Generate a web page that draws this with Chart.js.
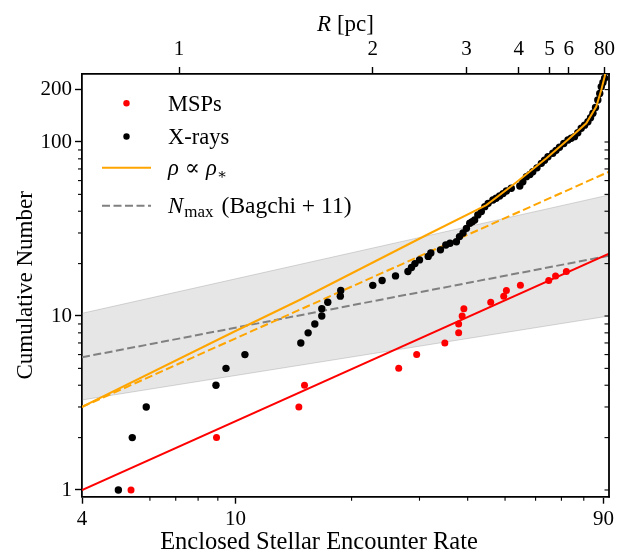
<!DOCTYPE html>
<html>
<head>
<meta charset="utf-8">
<script src="https://cdn.jsdelivr.net/npm/chart.js@4.4.1/dist/chart.umd.min.js"></script>
<style>
  html, body { margin: 0; padding: 0; background: #fff; }
</style>
</head>
<body>
<canvas id="c" width="626" height="553"></canvas>
<script>
const FONT = "'Liberation Serif', 'DejaVu Serif', serif"
const RED = "#ff0000"
const ORANGE = "#ffa500"
const GREY = "#808080"
const BAND = "rgba(128,128,128,0.2)"
const BAND_EDGE = "rgba(128,128,128,0.3)"
const INK = "#000"

// MSPs: enclosed encounter rate vs cumulative number
const mspRate = [5.36, 8.93, 14.6, 15.1, 26.5, 29.5, 34.9, 37.9, 37.9, 38.7, 39.1, 45.9, 49.6, 50.4, 54.8, 64.9, 67.6, 72.1]
const mspCount = [1, 2, 3, 4, 5, 6, 7, 8, 9, 10, 11, 12, 13, 14, 15, 16, 17, 18]

// X-ray sources
const xrayRate = [
  4.97, 5.40, 5.87, 8.90, 9.45, 10.58, 14.77, 15.43, 16.06, 16.74, 16.74, 17.35, 18.7, 18.75,
  22.7, 24.0, 26.0, 28.0, 28.6, 29.2, 30.0, 31.6, 32.1, 34.0,
  35.1, 36.0, 37.4, 38.1, 38.9, 39.7, 40.5, 41.1, 41.7, 42.5, 43.4, 44.3, 45.2, 46.5, 47.4, 48.4,
  49.4, 50.4, 51.9, 54.6, 55.6, 56.8, 58.0, 59.0, 60.5, 62.1, 63.3, 64.6, 66.5, 67.8, 69.2, 71.0,
  72.8, 74.2, 75.7, 77.2, 78.8, 80.4, 82.0, 83.3, 84.5, 85.8, 87.0, 88.0, 88.8, 89.7, 90.6
]
const xrayCount = [
  1, 2, 3, 4, 5, 6, 7, 8, 9, 10, 11, 12, 13, 14,
  15, 16, 17, 18, 19, 20, 21, 22, 23, 24,
  25.6, 26.2, 26.7, 28.6, 30.0, 31.9, 34.1, 34.8, 35.6, 38.1, 39.8, 42.5, 44.4, 46.4, 47.5, 48.9,
  50.5, 52.3, 54.2, 55.9, 59.1, 63.2, 65.0, 67.5, 71.0, 75.4, 78.5, 82.3, 86.1, 89.5, 93.2, 98.0,
  102.7, 105.0, 107.3, 113.0, 119.9, 125.0, 130.8, 138.0, 146.2, 158.0, 174.3, 190.0, 207.9, 220.0, 232.3
]

// rho ∝ rho_* model curve
const rhoRate = [4, 10, 14.7, 31.3, 44.7, 52.4, 64.0, 73.5, 81.2, 86.2, 88.8, 90.6, 91.2]
const rhoCount = [3.0, 8.2, 12.4, 29.2, 43.4, 56.6, 80.6, 105, 128, 160, 199, 237, 255]

// straight lines, given at the two x limits
const edgeRate = [4, 93]
const redLine = [1.0, 22.8]
const orangeDashed = [3.0, 67.5]
const nmaxLine = [5.79, 22.2]
const bandLow = [3.29, 10.0]
const bandHigh = [10.36, 49.6]

// axes
const xTicks = [4, 10, 90]
const xMinor = [6, 7, 8, 9, 20, 30, 40, 50, 60, 70, 80]
const yTicks = [1, 10, 100, 200]
const yMinor = [2, 3, 4, 5, 6, 7, 8, 9, 20, 30, 40, 50, 60, 70, 80, 90]
const topTickRate = [7.14, 22.7, 39.7, 54.3, 65.2, 73.1, 90.6]
const topTickLabel = ["1", "2", "3", "4", "5", "6", "80"]

const pts = (xs, ys) => xs.map((x, i) => ({ x, y: ys[i] }))
const DASH = [8, 3.5]

const tickFont = { family: FONT, size: 21 }
const axisGrid = { drawOnChartArea: false, tickLength: 7, tickWidth: 1.4, tickColor: INK }
const axisBorder = { color: INK, width: 1.8 }

// minor ticks, right spine, legend, top title and x label
const decor = {
  id: "decor",
  afterDraw(chart) {
    const { ctx, chartArea: a, scales } = chart
    const seg = (x1, y1, x2, y2) => { ctx.beginPath(); ctx.moveTo(x1, y1); ctx.lineTo(x2, y2); ctx.stroke() }
    ctx.save()
    ctx.strokeStyle = INK
    ctx.lineWidth = 1.1
    xMinor.forEach((v) => { const px = scales.x.getPixelForValue(v); seg(px, a.bottom, px, a.bottom + 4) })
    yMinor.forEach((v) => { const py = scales.y.getPixelForValue(v); seg(a.left - 4, py, a.left, py) })
    yTicks.concat(yMinor).forEach((v) => { const py = scales.y.getPixelForValue(v); seg(a.right - 4.5, py, a.right, py) })
    ctx.lineWidth = 1.8
    seg(a.right, a.top - 0.9, a.right, a.bottom + 0.9)

    // legend
    const lx = a.left + 20, tx = a.left + 86
    ctx.fillStyle = RED
    ctx.beginPath(); ctx.arc(a.left + 44.5, 103.3, 3.2, 0, Math.PI * 2); ctx.fill()
    ctx.fillStyle = INK
    ctx.beginPath(); ctx.arc(a.left + 44.5, 136.5, 3.2, 0, Math.PI * 2); ctx.fill()
    ctx.lineWidth = 2
    ctx.strokeStyle = ORANGE
    seg(lx, 167.7, lx + 49, 167.7)
    ctx.strokeStyle = GREY
    ctx.setLineDash(DASH)
    seg(lx, 205.7, lx + 49, 205.7)
    ctx.setLineDash([])

    ctx.fillStyle = INK
    ctx.textBaseline = "alphabetic"
    ctx.textAlign = "left"
    ctx.font = `22.5px ${FONT}`
    ctx.fillText("MSPs", tx, 111)
    ctx.fillText("X-rays", tx, 144)
    let cx = tx
    ctx.font = `italic 22.5px ${FONT}`
    ctx.fillText("ρ", cx, 175); cx += ctx.measureText("ρ").width + 6
    ctx.font = `22.5px ${FONT}`
    ctx.fillText("∝", cx, 175); cx += ctx.measureText("∝").width + 6
    ctx.font = `italic 22.5px ${FONT}`
    ctx.fillText("ρ", cx, 175); cx += ctx.measureText("ρ").width
    ctx.font = `15px ${FONT}`
    ctx.fillText("∗", cx, 179)
    cx = tx
    ctx.font = `italic 23px ${FONT}`
    ctx.fillText("N", cx, 213); cx += ctx.measureText("N").width + 1
    ctx.font = `17px ${FONT}`
    ctx.fillText("max", cx, 217); cx += ctx.measureText("max").width + 8
    ctx.font = `23.5px ${FONT}`
    ctx.fillText("(Bagchi + 11)", cx, 213)

    // top axis title
    ctx.font = `italic 23px ${FONT}`
    const wR = ctx.measureText("R").width
    ctx.font = `23px ${FONT}`
    const wRest = ctx.measureText(" [pc]").width
    const sx = (a.left + a.right) / 2 - (wR + wRest) / 2
    ctx.font = `italic 23px ${FONT}`
    ctx.fillText("R", sx, 31)
    ctx.font = `23px ${FONT}`
    ctx.fillText(" [pc]", sx + wR, 31)

    // bottom axis title, centred on the figure
    ctx.font = `24.5px ${FONT}`
    ctx.textAlign = "center"
    ctx.fillText("Enclosed Stellar Encounter Rate", chart.width / 2 + 6, 549)
    ctx.restore()
  },
}

new Chart(document.getElementById("c"), {
  type: "line",
  data: {
    datasets: [
      { data: pts(rhoRate, rhoCount), borderColor: ORANGE, borderWidth: 2, pointRadius: 0, tension: 0, order: 0 },
      { data: pts(mspRate, mspCount), showLine: false, pointRadius: 3.5, pointBackgroundColor: RED, pointBorderWidth: 0, order: 1 },
      { data: pts(xrayRate, xrayCount), showLine: false, pointRadius: 3.7, pointBackgroundColor: INK, pointBorderWidth: 0, order: 1 },
      { data: pts(edgeRate, redLine), borderColor: RED, borderWidth: 2, pointRadius: 0, order: 2 },
      { data: pts(edgeRate, orangeDashed), borderColor: ORANGE, borderWidth: 2, borderDash: DASH, pointRadius: 0, order: 3 },
      { data: pts(edgeRate, nmaxLine), borderColor: GREY, borderWidth: 2, borderDash: DASH, pointRadius: 0, order: 4 },
      { data: pts(edgeRate, bandHigh), borderColor: BAND_EDGE, borderWidth: 1, backgroundColor: BAND, fill: "+1", pointRadius: 0, order: 5 },
      { data: pts(edgeRate, bandLow), borderColor: BAND_EDGE, borderWidth: 1, pointRadius: 0, order: 5 },
    ],
  },
  options: {
    responsive: false,
    animation: false,
    events: [],
    layout: { padding: { left: 0, right: 17, top: 0, bottom: 0 } },
    plugins: { legend: { display: false }, tooltip: { enabled: false } },
    scales: {
      x: {
        type: "logarithmic",
        position: "bottom",
        min: 4,
        max: 93,
        bounds: "data",
        afterBuildTicks: (s) => { s.ticks = xTicks.map((v) => ({ value: v })) },
        afterFit: (s) => { s.height = 56.3 },
        ticks: { autoSkip: false, maxRotation: 0, padding: 3, color: INK, font: tickFont, callback: (v) => String(v) },
        grid: axisGrid,
        border: axisBorder,
      },
      xTop: {
        type: "logarithmic",
        axis: "x",
        position: "top",
        min: 4,
        max: 93,
        bounds: "data",
        afterBuildTicks: (s) => { s.ticks = topTickRate.map((v) => ({ value: v })) },
        afterFit: (s) => { s.height = 74 },
        ticks: { autoSkip: false, maxRotation: 0, padding: 5, color: INK, font: tickFont, callback: (v, i) => topTickLabel[i] },
        grid: axisGrid,
        border: axisBorder,
      },
      y: {
        type: "logarithmic",
        position: "left",
        min: 0.915,
        max: 245.9,
        bounds: "data",
        afterBuildTicks: (s) => { s.ticks = yTicks.map((v) => ({ value: v })) },
        afterFit: (s) => { s.width = 82 },
        ticks: { autoSkip: false, padding: 3, color: INK, font: tickFont, callback: (v) => String(v) },
        grid: axisGrid,
        border: axisBorder,
        title: {
          display: true,
          text: "Cumulative Number",
          color: INK,
          font: { family: FONT, size: 23, lineHeight: 1 },
          padding: { top: 14, bottom: 0 },
        },
      },
    },
  },
  plugins: [decor],
})
</script>
</body>
</html>
